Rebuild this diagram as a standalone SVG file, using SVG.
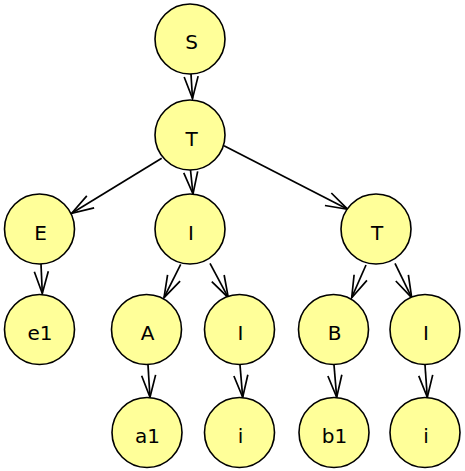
<svg xmlns="http://www.w3.org/2000/svg" width="465" height="471" viewBox="0 0 465 471">
<style>
.n circle{fill:#ffff99;stroke:#000;stroke-width:1.6}
.n text{font-family:"DejaVu Sans",sans-serif;font-size:20px;text-anchor:middle;fill:#000}
.e line{stroke:#000;stroke-width:1.7;fill:none;marker-end:url(#ah)}
</style>
<defs>
<marker id="ah" markerUnits="userSpaceOnUse" markerWidth="1" markerHeight="1" refX="0" refY="0" orient="auto" overflow="visible">
<path d="M-22,-7 L0,0 L-22,7" fill="none" stroke="#000" stroke-width="1.7"/>
</marker>
</defs>
<rect width="465" height="471" fill="#fff"/>
<g id="connectors" class="e">
<line x1="191" y1="74" x2="192.5" y2="98.5"/>
<line x1="190.5" y1="170" x2="193" y2="194"/>
<line x1="161.7" y1="158.3" x2="71.7" y2="213.3"/>
<line x1="224" y1="145.7" x2="347.7" y2="209.3"/>
<line x1="41" y1="264" x2="42.3" y2="293.5"/>
<line x1="180.7" y1="264.3" x2="164" y2="297.7"/>
<line x1="210" y1="263.3" x2="228.3" y2="297.7"/>
<line x1="366" y1="265" x2="351.7" y2="297.7"/>
<line x1="395" y1="263.3" x2="411.7" y2="297.7"/>
<line x1="148" y1="365" x2="150" y2="397.3"/>
<line x1="240" y1="365" x2="242.7" y2="397.3"/>
<line x1="334" y1="365" x2="336.7" y2="397.3"/>
<line x1="425" y1="365" x2="427.3" y2="397.3"/>
</g>
<g id="n_S" class="n"><circle cx="190" cy="39" r="35"/><text x="191.5" y="49">S</text></g>
<g id="n_T" class="n"><circle cx="190" cy="135" r="35"/><text x="191.5" y="145.5">T</text></g>
<g id="n_E" class="n"><circle cx="39.5" cy="229" r="35"/><text x="40.5" y="239.5">E</text></g>
<g id="n_I" class="n"><circle cx="190" cy="229" r="35"/><text x="191" y="239.5">I</text></g>
<g id="n_T2" class="n"><circle cx="376" cy="229" r="35"/><text x="377" y="239.5">T</text></g>
<g id="n_e1" class="n"><circle cx="39.5" cy="329.5" r="35"/><text x="40" y="340">e1</text></g>
<g id="n_A" class="n"><circle cx="146.5" cy="329.5" r="35"/><text x="147.5" y="340">A</text></g>
<g id="n_I2" class="n"><circle cx="239.5" cy="329.5" r="35"/><text x="240.5" y="340">I</text></g>
<g id="n_B" class="n"><circle cx="333.5" cy="329.5" r="35"/><text x="334.5" y="340">B</text></g>
<g id="n_I3" class="n"><circle cx="425" cy="329.5" r="35"/><text x="426" y="340">I</text></g>
<g id="n_a1" class="n"><circle cx="147" cy="432.5" r="35"/><text x="147.5" y="443">a1</text></g>
<g id="n_i1" class="n"><circle cx="239.5" cy="432.5" r="35"/><text x="240.5" y="443">i</text></g>
<g id="n_b1" class="n"><circle cx="334" cy="432.5" r="35"/><text x="334.5" y="443">b1</text></g>
<g id="n_i2" class="n"><circle cx="425" cy="432.5" r="35"/><text x="426" y="443">i</text></g>
</svg>
